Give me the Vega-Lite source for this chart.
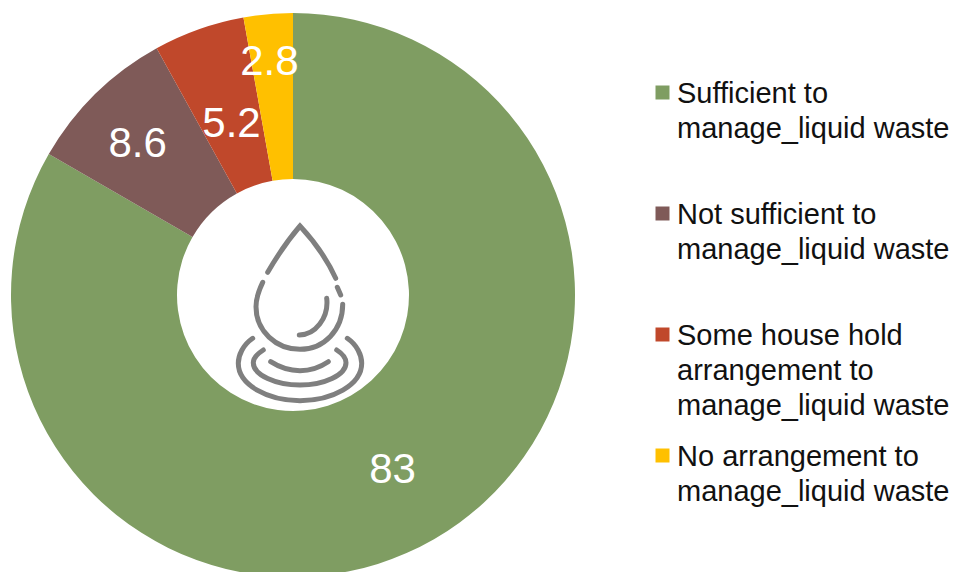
{
  "$schema": "https://vega.github.io/schema/vega-lite/v6.json",
  "width": 586,
  "height": 590,
  "autosize": {"type": "none"},
  "padding": {"left": 0, "top": 0, "right": 371, "bottom": 0},
  "background": "white",
  "view": {"stroke": null},
  "data": {"values": [
    {"category": "Sufficient to|manage_liquid waste", "value": 83, "rank": 1},
    {"category": "Not sufficient to|manage_liquid waste", "value": 8.6, "rank": 2},
    {"category": "Some house hold|arrangement to|manage_liquid waste", "value": 5.2, "rank": 3},
    {"category": "No arrangement to|manage_liquid waste", "value": 2.8, "rank": 4}
  ]},
  "transform": [
    {"stack": "value", "sort": [{"field": "rank"}], "as": ["t0", "t1"]},
    {"calculate": "(datum.t0 + datum.t1) / 2", "as": "mid"}
  ],
  "layer": [
    {
      "mark": {"type": "arc", "outerRadius": 282, "innerRadius": 116},
      "encoding": {
        "theta": {"field": "t0", "type": "quantitative", "scale": {"domain": [0, 99.6]}},
        "theta2": {"field": "t1"},
        "order": {"field": "rank"},
        "color": {
          "field": "category",
          "type": "nominal",
          "sort": {"field": "rank"},
          "scale": {
            "domain": ["Sufficient to|manage_liquid waste", "Not sufficient to|manage_liquid waste", "Some house hold|arrangement to|manage_liquid waste", "No arrangement to|manage_liquid waste"],
            "range": ["#7F9D62", "#7F5A58", "#C0482B", "#FFC000"]
          },
          "legend": {
            "title": null,
            "orient": "none",
            "legendX": 648,
            "legendY": 78,
            "padding": 0,
            "columns": 1,
            "gridAlign": "all",
            "rowPadding": 20,
            "symbolType": "square",
            "symbolSize": 196,
            "symbolStrokeWidth": 0,
            "labelFont": "Liberation Sans",
            "labelFontSize": 29,
            "labelColor": "#111111",
            "labelLimit": 400,
            "labelOffset": 0,
            "labelBaseline": "top",
            "labelExpr": "split(datum.label, '|')",
            "encoding": {"labels": {"lineHeight": {"value": 35}, "dy": {"value": -13}}}
          }
        }
      }
    },
    {
      "data": {"values": [{"icon": "drop"}]},
      "mark": {
        "type": "point",
        "shape": "M-0.253 -0.227C-0.17 -0.37 -0.05 -0.55 0.07 -0.69C0.2 -0.55 0.33 -0.38 0.427 -0.167M-0.303 -0.127C-0.35 -0.03 -0.37 0.05 -0.37 0.117C-0.37 0.36 -0.17 0.543 0.07 0.543C0.31 0.543 0.497 0.35 0.497 0.093M0.443 -0.077L0.477 0M0.337 0.033C0.36 0.23 0.22 0.4 0.063 0.4M-0.403 0.433C-0.5 0.5 -0.547 0.6 -0.547 0.683C-0.547 0.9 -0.25 1.057 0.07 1.057C0.39 1.057 0.687 0.9 0.687 0.683C0.687 0.6 0.64 0.5 0.543 0.433M-0.297 0.55C-0.36 0.59 -0.397 0.64 -0.397 0.677C-0.397 0.8 -0.17 0.9 0.07 0.9C0.31 0.9 0.53 0.8 0.53 0.677C0.53 0.64 0.5 0.59 0.437 0.55M-0.223 0.667C-0.11 0.74 0 0.757 0.07 0.757C0.15 0.757 0.26 0.73 0.353 0.667",
        "size": 40000,
        "filled": false,
        "fill": null,
        "stroke": "#7F7F7F",
        "strokeWidth": 5,
        "strokeCap": "round",
        "opacity": 1
      },
      "encoding": {}
    },
    {
      "transform": [{"filter": "datum.rank == 1"}],
      "mark": {"type": "text", "radius": 199, "dy": 3, "font": "Liberation Sans", "fontSize": 42, "color": "white"},
      "encoding": {"theta": {"field": "mid", "type": "quantitative"}, "text": {"field": "value", "type": "quantitative"}}
    },
    {
      "transform": [{"filter": "datum.rank == 2"}],
      "mark": {"type": "text", "radius": 199, "dx": -16, "dy": -9, "font": "Liberation Sans", "fontSize": 42, "color": "white"},
      "encoding": {"theta": {"field": "mid", "type": "quantitative"}, "text": {"field": "value", "type": "quantitative"}}
    },
    {
      "transform": [{"filter": "datum.rank == 3"}],
      "mark": {"type": "text", "radius": 199, "dx": 5, "dy": 17, "font": "Liberation Sans", "fontSize": 42, "color": "white"},
      "encoding": {"theta": {"field": "mid", "type": "quantitative"}, "text": {"field": "value", "type": "quantitative"}}
    },
    {
      "transform": [{"filter": "datum.rank == 4"}],
      "mark": {"type": "text", "radius": 199, "dx": -6, "dy": -35, "font": "Liberation Sans", "fontSize": 42, "color": "white"},
      "encoding": {"theta": {"field": "mid", "type": "quantitative"}, "text": {"field": "value", "type": "quantitative"}}
    }
  ]
}
